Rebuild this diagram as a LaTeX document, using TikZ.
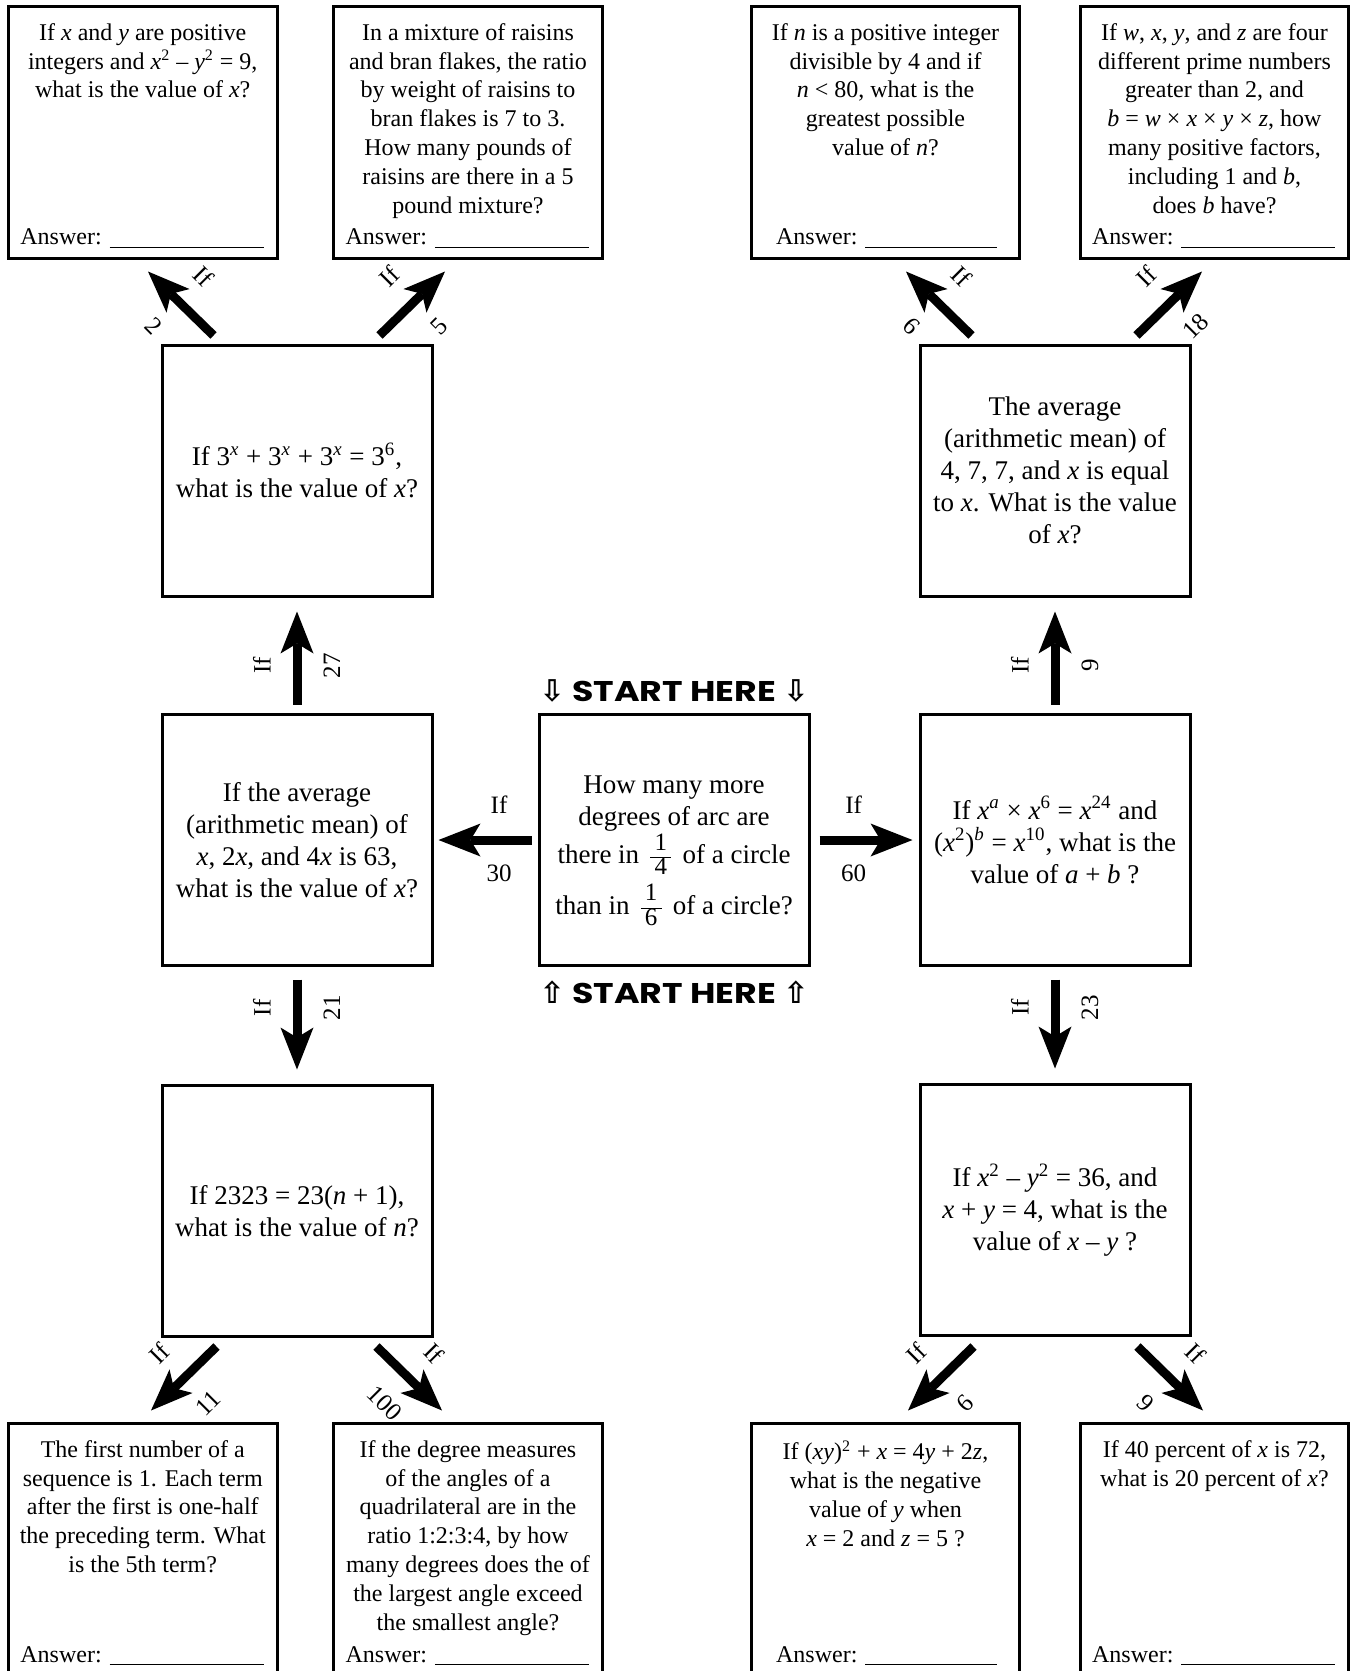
\documentclass[tikz,border=0pt]{standalone}
\usepackage{fontspec}
\setmainfont{Liberation Serif}
\newfontfamily\startfont[FakeStretch=1.22]{Poppins}
\newfontfamily\symfont{DejaVu Sans}
\usetikzlibrary{arrows.meta}

\newcommand{\iv}[1]{\textit{#1}}
\newcommand{\sps}[1]{\textsuperscript{#1}}
\newcommand{\qfrac}[2]{\,{\fontsize{12.5}{12.5}\selectfont\renewcommand{\arraystretch}{0.95}\begin{tabular}{@{\,}c@{\,}}#1\\\hline #2\end{tabular}}\,}
\newcommand{\ansline}[1][77pt]{Answer: \rule[-1.5pt]{#1}{0.7pt}}
\newcommand{\arrdn}{{\symfont\fontsize{15}{15}\selectfont ⇩}}
\newcommand{\arrup}{{\symfont\fontsize{15}{15}\selectfont ⇧}}

\tikzset{
  qbox/.style={draw, line width=1.5pt, minimum width=135pt, minimum height=125.5pt,
    inner sep=0pt, align=center, font=\fontsize{13.5}{16}\selectfont},
  abox/.style={draw, line width=1.5pt, minimum width=134.25pt, minimum height=126pt, inner sep=0pt},
  atext/.style={anchor=north, inner sep=0pt, align=center, font=\fontsize{12}{14.4}\selectfont},
  ans/.style={anchor=base west, inner sep=0pt, font=\fontsize{12}{14.4}\selectfont},
  bigarrow/.style={line width=4.5pt, -{Stealth[length=21pt, width=16.5pt, inset=5pt, line width=0pt]}},
  lab/.style={inner sep=1pt, font=\fontsize{12.5}{14}\selectfont},
  start/.style={inner sep=0pt, font=\startfont\bfseries\fontsize{14.25}{16}\selectfont}
}

\begin{document}
\begin{tikzpicture}[x=0.5pt, y=-0.5pt]
\useasboundingbox (0,0) rectangle (1351,1671);

% answer boxes, top row
\node[abox] (A1) at (142.75,132.4) {};
\node[abox] (A2) at (468,132.4) {};
\node[abox] (A3) at (885.5,132.4) {};
\node[abox] (A4) at (1214.5,132.4) {};
\node[atext] (A1t) at ([yshift=-9pt]A1.north) {If \iv{x} and \iv{y} are positive\\ integers and \iv{x}\sps{2} – \iv{y}\sps{2} = 9,\\ what is the value of \iv{x}?};
\node[atext] (A2t) at ([yshift=-9pt]A2.north) {In a mixture of raisins\\ and bran flakes, the ratio\\ by weight of raisins to\\ bran flakes is 7 to 3.\\ How many pounds of\\ raisins are there in a 5\\ pound mixture?};
\node[atext] (A3t) at ([yshift=-9pt]A3.north) {If \iv{n} is a positive integer\\ divisible by 4 and if\\ \iv{n} < 80, what is the\\ greatest possible\\ value of \iv{n}?};
\node[atext] (A4t) at ([yshift=-9pt]A4.north) {If \iv{w}, \iv{x}, \iv{y}, and \iv{z} are four\\ different prime numbers\\ greater than 2, and\\ \iv{b} = \iv{w} × \iv{x} × \iv{y} × \iv{z}, how\\ many positive factors,\\ including 1 and \iv{b},\\ does \iv{b} have?};
\node[ans] (A1a) at ([shift={(13,-15)}]A1.south west) {\ansline};
\node[ans] (A2a) at ([shift={(13,-15)}]A2.south west) {\ansline};
\node[ans] (A3a) at ([shift={(26,-15)}]A3.south west) {\ansline[66pt]};
\node[ans] (A4a) at ([shift={(13,-15)}]A4.south west) {\ansline};

% question boxes
\node[qbox] (L2) at (297,470.5) {If 3\sps{\iv{x}} + 3\sps{\iv{x}} + 3\sps{\iv{x}} = 3\sps{6},\\ what is the value of \iv{x}?};
\node[qbox] (R2) at (1055,470.5) {The average\\ (arithmetic mean) of\\ 4, 7, 7, and \iv{x} is equal\\ to \iv{x}. What is the value\\ of \iv{x}?};
\node[qbox] (ML) at (297,840) {If the average\\ (arithmetic mean) of\\ \iv{x}, 2\iv{x}, and 4\iv{x} is 63,\\ what is the value of \iv{x}?};
\node[qbox] (C) at (674,840) {\rule{0pt}{23pt}How many more\\ degrees of arc are\\ there in \qfrac{1}{4} of a circle\\ than in \qfrac{1}{6} of a circle?};
\node[qbox] (MR) at (1055,840) {If \iv{x}\sps{\iv{a}} × \iv{x}\sps{6} = \iv{x}\sps{24} and\\ (\iv{x}\sps{2})\sps{\iv{b}} = \iv{x}\sps{10}, what is the\\ value of \iv{a} + \iv{b} ?};
\node[qbox] (BL2) at (297,1211) {If 2323 = 23(\iv{n} + 1),\\ what is the value of \iv{n}?};
\node[qbox] (BR2) at (1055,1210) {If \iv{x}\sps{2} – \iv{y}\sps{2} = 36, and\\ \iv{x} + \iv{y} = 4, what is the\\ value of \iv{x} – \iv{y} ?};

\node[start] (S1) at (674,691) {\arrdn\ START HERE \arrdn};
\node[start] (S2) at (674,992) {\arrup\ START HERE \arrup};

% answer boxes, bottom row
\node[abox] (B1) at (142.75,1549.5) {};
\node[abox] (B2) at (468,1549.5) {};
\node[abox] (B3) at (885.5,1549.5) {};
\node[abox] (B4) at (1214.5,1549.5) {};
\node[atext] (B1t) at ([yshift=-9pt]B1.north) {The first number of a\\ sequence is 1. Each term\\ after the first is one-half\\ the preceding term. What\\ is the 5th term?};
\node[atext] (B2t) at ([yshift=-9pt]B2.north) {If the degree measures\\ of the angles of a\\ quadrilateral are in the\\ ratio 1:2:3:4, by how\\ many degrees does the of\\ the largest angle exceed\\ the smallest angle?};
\node[atext] (B3t) at ([yshift=-9pt]B3.north) {If (\iv{xy})\sps{2} + \iv{x} = 4\iv{y} + 2\iv{z},\\ what is the negative\\ value of \iv{y} when\\ \iv{x} = 2 and \iv{z} = 5 ?};
\node[atext] (B4t) at ([yshift=-9pt]B4.north) {If 40 percent of \iv{x} is 72,\\ what is 20 percent of \iv{x}?};
\node[ans] (B1a) at ([shift={(13,-15)}]B1.south west) {\ansline};
\node[ans] (B2a) at ([shift={(13,-15)}]B2.south west) {\ansline};
\node[ans] (B3a) at ([shift={(26,-15)}]B3.south west) {\ansline[66pt]};
\node[ans] (B4a) at ([shift={(13,-15)}]B4.south west) {\ansline};

% arrows
\draw[bigarrow, shorten <=3pt, shorten >=2.5pt] (C) -- (ML) node[lab, pos=.37, above=10pt] {If} node[lab, pos=.37, below=9pt] {30};
\draw[bigarrow, shorten <=4.5pt, shorten >=3pt] (C) -- (MR) node[lab, pos=.4, above=10pt] {If} node[lab, pos=.4, below=9pt] {60};
\draw[bigarrow, shorten <=4.25pt, shorten >=7pt] (ML) -- (L2) node[lab, pos=.41, rotate=90, above=10pt] {If} node[lab, pos=.41, rotate=90, below=10pt] {27};
\draw[bigarrow, shorten <=6.25pt, shorten >=7.25pt] (ML) -- (BL2) node[lab, pos=.35, rotate=90, above=10pt] {If} node[lab, pos=.35, rotate=90, below=10pt] {21};
\draw[bigarrow, shorten <=4.25pt, shorten >=7pt] (MR) -- (R2) node[lab, pos=.41, rotate=90, above=10pt] {If} node[lab, pos=.41, rotate=90, below=10pt] {9};
\draw[bigarrow, shorten <=6.25pt, shorten >=7.25pt] (MR) -- (BR2) node[lab, pos=.35, rotate=90, above=10pt] {If} node[lab, pos=.35, rotate=90, below=10pt] {23};

\draw[bigarrow] ([shift={(53,-8)}]L2.north west) -- ([shift={(5.25,11.6)}]A1.south) node[lab, pos=.53, rotate=-45, above=10pt] {If} node[lab, pos=.53, rotate=-45, below=10pt] {2};
\draw[bigarrow] ([shift={(-54,-8)}]L2.north east) -- ([shift={(-23,11.6)}]A2.south) node[lab, pos=.53, rotate=45, above=10pt] {If} node[lab, pos=.53, rotate=45, below=10pt] {5};
\draw[bigarrow] ([shift={(53,-8)}]R2.north west) -- ([shift={(20.5,11.6)}]A3.south) node[lab, pos=.53, rotate=-45, above=10pt] {If} node[lab, pos=.53, rotate=-45, below=10pt] {6};
\draw[bigarrow] ([shift={(-55,-8)}]R2.north east) -- ([shift={(-12.5,11.6)}]A4.south) node[lab, pos=.53, rotate=45, above=10pt] {If} node[lab, pos=.53, rotate=45, below=10pt] {18};

\draw[bigarrow] ([shift={(56,8.5)}]BL2.south west) -- ([shift={(8.25,-11.5)}]B1.north) node[lab, pos=.5, rotate=45, above=10pt] {If} node[lab, pos=.5, rotate=45, below=10pt] {11};
\draw[bigarrow] ([shift={(-57,8.5)}]BL2.south east) -- ([shift={(-26,-11.5)}]B2.north) node[lab, pos=.5, rotate=-45, above=10pt] {If} node[lab, pos=.5, rotate=-45, below=10pt] {100};
\draw[bigarrow] ([shift={(55,9.5)}]BR2.south west) -- ([shift={(22.5,-11.5)}]B3.north) node[lab, pos=.5, rotate=45, above=10pt] {If} node[lab, pos=.5, rotate=45, below=10pt] {6};
\draw[bigarrow] ([shift={(-54,9.5)}]BR2.south east) -- ([shift={(-11.5,-11.5)}]B4.north) node[lab, pos=.5, rotate=-45, above=10pt] {If} node[lab, pos=.5, rotate=-45, below=10pt] {9};
\end{tikzpicture}
\end{document}
